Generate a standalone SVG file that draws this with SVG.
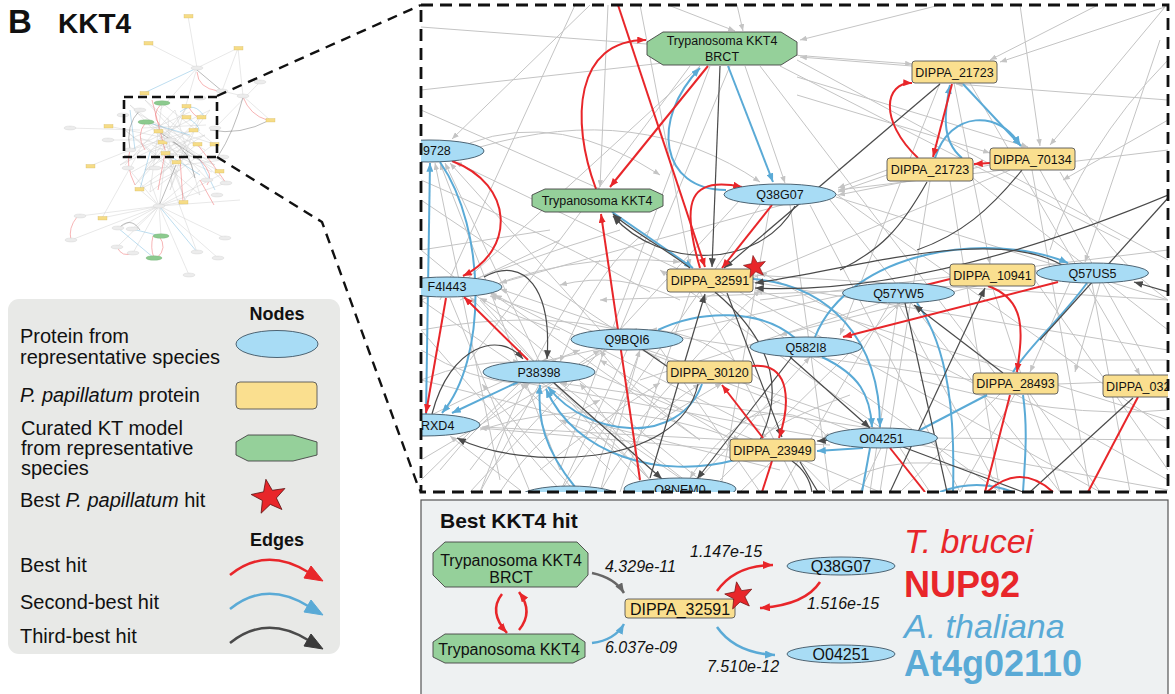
<svg xmlns="http://www.w3.org/2000/svg" width="1175" height="694" viewBox="0 0 1175 694">
<style>
text{font-family:"Liberation Sans",Arial,sans-serif;fill:#111}
.g{stroke:#c4c4c4;stroke-width:1;fill:none;marker-end:url(#ag)}
.gn{stroke:#c4c4c4;stroke-width:1;fill:none}
.r{stroke:#e8262a;stroke-width:2;fill:none;marker-end:url(#ar)}
.rn{stroke:#e8262a;stroke-width:2;fill:none}
.b{stroke:#5aaad6;stroke-width:2;fill:none;marker-end:url(#ab)}
.bn{stroke:#5aaad6;stroke-width:2;fill:none}
.d{stroke:#4a4a4a;stroke-width:1.2;fill:none;marker-end:url(#ad)}
.dn{stroke:#4a4a4a;stroke-width:1.2;fill:none}
.pe{fill:#a8dcf5;stroke:#3e5564;stroke-width:0.9}
.py{fill:#fadf8f;stroke:#555;stroke-width:0.9}
.pg{fill:#95d09a;stroke:#444;stroke-width:0.9}
.nl{font-size:12.5px;text-anchor:middle}
.bl{font-size:16px;text-anchor:middle}
.lab{font-size:16px;font-style:italic}
.leg{font-size:20px}
.th line,.th path{stroke:#d0d0d0;stroke-width:0.5;fill:none}
.th .tr{stroke:#ee6a6c}
.th .tb{stroke:#7cbde0}
.th .td{stroke:#777}
.ty{fill:#f6dc86;stroke:#d2b256;stroke-width:0.3}
.tg{fill:#8cca8e;stroke:#6aa56c;stroke-width:0.3}
.te{fill:#ececec;stroke:#c5c5c5;stroke-width:0.3}
.dash{fill:none;stroke:#111;stroke-width:2.8;stroke-dasharray:12,7}
</style>
<defs>
<marker id="ag" viewBox="0 0 10 8" refX="10" refY="4" markerWidth="7" markerHeight="5.5" markerUnits="userSpaceOnUse" orient="auto"><path d="M0,0 L10,4 L0,8 z" fill="#c4c4c4"/></marker>
<marker id="ar" viewBox="0 0 10 8" refX="10" refY="4" markerWidth="9" markerHeight="7" markerUnits="userSpaceOnUse" orient="auto"><path d="M0,0 L10,4 L0,8 z" fill="#e8262a"/></marker>
<marker id="ab" viewBox="0 0 10 8" refX="10" refY="4" markerWidth="9" markerHeight="7" markerUnits="userSpaceOnUse" orient="auto"><path d="M0,0 L10,4 L0,8 z" fill="#5aaad6"/></marker>
<marker id="ad" viewBox="0 0 10 8" refX="10" refY="4" markerWidth="9" markerHeight="7" markerUnits="userSpaceOnUse" orient="auto"><path d="M0,0 L10,4 L0,8 z" fill="#4a4a4a"/></marker>
<marker id="br" viewBox="0 0 10 8" refX="10" refY="4" markerWidth="10" markerHeight="8" markerUnits="userSpaceOnUse" orient="auto"><path d="M0,0 L10,4 L0,8 z" fill="#e8262a"/></marker>
<marker id="bb" viewBox="0 0 10 8" refX="10" refY="4" markerWidth="10" markerHeight="8" markerUnits="userSpaceOnUse" orient="auto"><path d="M0,0 L10,4 L0,8 z" fill="#5aaad6"/></marker>
<marker id="bd" viewBox="0 0 10 8" refX="10" refY="4" markerWidth="10" markerHeight="8" markerUnits="userSpaceOnUse" orient="auto"><path d="M0,0 L10,4 L0,8 z" fill="#666"/></marker>
<clipPath id="frame"><rect x="421" y="5" width="747" height="487"/></clipPath>
<path id="star" d="M-3.1,-17.7 L3.3,-6.7 L15.9,-8.5 L7.4,1 L12.9,12.5 L1.3,7.4 L-7.9,16.2 L-6.6,3.5 L-17.8,-2.5 L-5.4,-5.2 Z"/>
</defs>

<!-- Title -->
<g id="title">
<text x="8" y="33" style="font-size:33px;font-weight:bold">B</text>
<text x="58" y="33" style="font-size:28px;font-weight:bold">KKT4</text>
</g>

<!-- Thumbnail overview network -->
<g id="thumbnail" class="th">
<line x1="188" y1="16" x2="197" y2="68"/><line x1="148" y1="43" x2="197" y2="68"/><line x1="238" y1="48" x2="197" y2="68"/>
<line x1="238" y1="48" x2="222" y2="91"/><line x1="238" y1="48" x2="243" y2="96"/><line x1="197" y1="68" x2="180" y2="125"/>
<line x1="197" y1="68" x2="160" y2="110"/><line x1="222" y1="91" x2="243" y2="96"/><line x1="243" y1="96" x2="270" y2="120"/>
<line x1="260" y1="82" x2="215" y2="128"/><line x1="70" y1="128" x2="140" y2="130"/><line x1="108" y1="140" x2="150" y2="140"/>
<line x1="90" y1="166" x2="130" y2="150"/><line x1="159" y1="206" x2="80" y2="216"/><line x1="159" y1="206" x2="71" y2="240"/>
<line x1="159" y1="206" x2="118" y2="228"/><line x1="159" y1="206" x2="132" y2="229"/><line x1="159" y1="206" x2="218" y2="258"/>
<line x1="159" y1="206" x2="225" y2="238"/><line x1="159" y1="206" x2="189" y2="275"/><line x1="159" y1="206" x2="102" y2="218"/>
<line x1="159" y1="206" x2="183" y2="202"/><line x1="159" y1="206" x2="139" y2="189"/><line x1="159" y1="206" x2="165" y2="160"/>
<line x1="159" y1="206" x2="200" y2="170"/><line x1="159" y1="206" x2="220" y2="175"/><line x1="159" y1="206" x2="128" y2="168"/>
<line x1="159" y1="206" x2="150" y2="180"/><line x1="159" y1="206" x2="240" y2="200"/><line x1="159" y1="206" x2="226" y2="183"/>
<line x1="159" y1="206" x2="117" y2="247"/><line x1="159" y1="206" x2="161" y2="236"/><line x1="159" y1="206" x2="133" y2="253"/>
<line x1="130" y1="105" x2="180" y2="158"/><line x1="145" y1="100" x2="200" y2="160"/><line x1="162" y1="103" x2="150" y2="192"/>
<line x1="175" y1="110" x2="125" y2="165"/><line x1="188" y1="106" x2="145" y2="170"/><line x1="200" y1="117" x2="135" y2="185"/>
<line x1="210" y1="110" x2="160" y2="175"/><line x1="146" y1="122" x2="214" y2="144"/><line x1="160" y1="125" x2="226" y2="183"/>
<line x1="180" y1="125" x2="120" y2="165"/><line x1="193" y1="130" x2="130" y2="150"/><line x1="205" y1="135" x2="150" y2="152"/>
<line x1="125" y1="130" x2="200" y2="195"/><line x1="140" y1="138" x2="215" y2="165"/><line x1="158" y1="131" x2="185" y2="200"/>
<line x1="170" y1="140" x2="135" y2="185"/><line x1="185" y1="145" x2="170" y2="190"/><line x1="197" y1="144" x2="145" y2="100"/>
<line x1="214" y1="144" x2="162" y2="103"/><line x1="130" y1="150" x2="210" y2="110"/><line x1="150" y1="152" x2="188" y2="106"/>
<line x1="165" y1="153" x2="222" y2="160"/><line x1="200" y1="160" x2="130" y2="105"/><line x1="215" y1="165" x2="146" y2="122"/>
<line x1="120" y1="165" x2="193" y2="130"/><line x1="145" y1="170" x2="205" y2="135"/><line x1="160" y1="175" x2="197" y2="144"/>
<line x1="178" y1="172" x2="125" y2="130"/><line x1="195" y1="178" x2="158" y2="131"/><line x1="210" y1="182" x2="170" y2="140"/>
<line x1="150" y1="192" x2="214" y2="144"/><line x1="170" y1="190" x2="200" y2="117"/><line x1="185" y1="200" x2="160" y2="125"/>
<line x1="200" y1="195" x2="175" y2="110"/><line x1="222" y1="160" x2="145" y2="170"/><line x1="108" y1="126" x2="175" y2="140"/>
<line x1="140" y1="189" x2="180" y2="170"/><line x1="183" y1="202" x2="200" y2="180"/><line x1="219" y1="171" x2="180" y2="150"/>
<line x1="139" y1="189" x2="176" y2="162"/><line x1="102" y1="218" x2="140" y2="150"/><line x1="197" y1="252" x2="170" y2="180"/>
<line x1="135" y1="112" x2="205" y2="150"/><line x1="128" y1="140" x2="190" y2="112"/><line x1="168" y1="118" x2="172" y2="185"/>
<line x1="152" y1="145" x2="212" y2="172"/><line x1="132" y1="172" x2="190" y2="140"/><line x1="142" y1="128" x2="206" y2="125"/>
<line class="tb" x1="144" y1="93" x2="197" y2="68"/><line class="tb" x1="159" y1="206" x2="197" y2="252"/><line class="tb" x1="118" y1="228" x2="154" y2="258"/>
<line class="tb" x1="146" y1="122" x2="190" y2="135"/><line class="tb" x1="130" y1="110" x2="135" y2="150"/><line class="tb" x1="200" y1="160" x2="215" y2="190"/>
<line class="tb" x1="150" y1="152" x2="140" y2="189"/><line class="tb" x1="132" y1="229" x2="161" y2="236"/>
<path class="tb" d="M186,117 Q200,125 199,131"/><path class="tb" d="M165,153 Q185,165 200,175"/><path class="tb" d="M180,112 Q195,100 205,118"/>
<path class="tr" d="M197,72 Q198,88 218,91"/><path class="tr" d="M243,97 Q250,115 267,120"/><path class="tr" d="M77,217 Q68,228 71,240"/>
<path class="tr" d="M117,247 Q122,258 133,253"/><path class="tr" d="M159,236 Q168,248 157,258"/><path class="tr" d="M153,236 Q150,248 154,258"/>
<path class="tr" d="M162,103 Q150,115 160,125"/><path class="tr" d="M146,122 Q135,135 145,150"/><path class="tr" d="M188,106 Q195,118 200,117"/>
<path class="tr" d="M200,160 Q215,175 207,185"/><path class="tr" d="M197,144 Q210,160 226,183"/><path class="tr" d="M130,150 Q125,165 135,185"/>
<line class="tr" x1="165" y1="153" x2="158" y2="190"/><line class="tr" x1="180" y1="158" x2="183" y2="202"/><line class="tr" x1="152" y1="100" x2="165" y2="150"/>
<line class="tr" x1="200" y1="180" x2="214" y2="205"/>
<path class="td" d="M197,70 L222,91"/><path class="td" d="M217,158 Q235,130 243,97"/><path class="td" d="M210,130 Q240,136 270,120"/>
<path class="td" d="M158,131 L200,160"/><path class="td" d="M170,140 Q190,150 195,178"/><path class="td" d="M140,110 Q125,125 130,150"/>
<path class="td" d="M117,230 Q130,215 140,230"/><line class="td" x1="159" y1="206" x2="176" y2="165"/>
<g>
<rect class="ty" x="184" y="14.5" width="9" height="3.5"/><rect class="ty" x="144" y="41.5" width="9" height="3.5"/><rect class="ty" x="234" y="46.5" width="9" height="3.5"/>
<rect class="ty" x="140" y="91.5" width="9" height="3.5"/><rect class="ty" x="182" y="104.5" width="9" height="3.5"/><rect class="ty" x="182" y="115.5" width="9" height="3.5"/>
<rect class="ty" x="197" y="115.5" width="9" height="3.5"/><rect class="ty" x="104" y="124.5" width="9" height="3.5"/><rect class="ty" x="189" y="128.5" width="9" height="3.5"/>
<rect class="ty" x="154" y="129.5" width="9" height="3.5"/><rect class="ty" x="158" y="140.5" width="9" height="3.5"/><rect class="ty" x="193" y="142.5" width="9" height="3.5"/>
<rect class="ty" x="210" y="142.5" width="9" height="3.5"/><rect class="ty" x="161" y="151.5" width="9" height="3.5"/><rect class="ty" x="86" y="164.5" width="9" height="3.5"/>
<rect class="ty" x="172" y="160.5" width="9" height="3.5"/><rect class="ty" x="215" y="169.5" width="9" height="3.5"/><rect class="ty" x="266" y="118.5" width="9" height="3.5"/>
<rect class="ty" x="135" y="187.5" width="9" height="3.5"/><rect class="ty" x="179" y="200.5" width="9" height="3.5"/><rect class="ty" x="98" y="216.5" width="9" height="3.5"/>
<ellipse class="tg" cx="162" cy="103" rx="8" ry="2.3"/><ellipse class="tg" cx="146" cy="122" rx="8" ry="2.3"/><ellipse class="tg" cx="161" cy="236" rx="8" ry="2.3"/><ellipse class="tg" cx="154" cy="258" rx="8" ry="2.3"/>
<ellipse class="te" cx="197" cy="68" rx="6" ry="2"/><ellipse class="te" cx="222" cy="91" rx="6" ry="2"/><ellipse class="te" cx="243" cy="96" rx="6" ry="2"/>
<ellipse class="te" cx="260" cy="82" rx="6" ry="2"/><ellipse class="te" cx="70" cy="128" rx="6" ry="2"/><ellipse class="te" cx="108" cy="140" rx="6" ry="2"/>
<ellipse class="te" cx="123" cy="115" rx="6" ry="2"/><ellipse class="te" cx="159" cy="206" rx="6" ry="2"/><ellipse class="te" cx="80" cy="216" rx="6" ry="2"/>
<ellipse class="te" cx="71" cy="240" rx="6" ry="2"/><ellipse class="te" cx="118" cy="228" rx="6" ry="2"/><ellipse class="te" cx="132" cy="229" rx="6" ry="2"/>
<ellipse class="te" cx="117" cy="247" rx="6" ry="2"/><ellipse class="te" cx="133" cy="253" rx="6" ry="2"/><ellipse class="te" cx="197" cy="252" rx="6" ry="2"/>
<ellipse class="te" cx="218" cy="258" rx="6" ry="2"/><ellipse class="te" cx="225" cy="238" rx="6" ry="2"/><ellipse class="te" cx="189" cy="275" rx="6" ry="2"/>
<ellipse class="te" cx="223" cy="157" rx="6" ry="2"/><ellipse class="te" cx="128" cy="168" rx="6" ry="2"/><ellipse class="te" cx="155" cy="168" rx="6" ry="2"/>
<ellipse class="te" cx="207" cy="180" rx="6" ry="2"/><ellipse class="te" cx="217" cy="195" rx="6" ry="2"/><ellipse class="te" cx="226" cy="183" rx="6" ry="2"/>
<ellipse class="te" cx="130" cy="150" rx="6" ry="2"/><ellipse class="te" cx="170" cy="140" rx="6" ry="2"/><ellipse class="te" cx="140" cy="110" rx="6" ry="2"/>
<ellipse class="te" cx="200" cy="98" rx="6" ry="2"/><ellipse class="te" cx="215" cy="128" rx="6" ry="2"/>
</g>
</g>

<!-- zoom indicator -->
<g id="zoom-lines">
<rect class="dash" x="124" y="97" width="93" height="60" style="stroke-width:2.6;stroke-dasharray:9,5"/>
<path class="dash" d="M217,96 L421,5" style="stroke-width:2.4;stroke-dasharray:10,7"/>
<path class="dash" d="M217,157 L322,222 L418,486 L421,492" style="stroke-width:2.4;stroke-dasharray:10,7"/>
</g>

<!-- Legend -->
<g id="legend">
<rect x="8" y="299" width="332" height="355" rx="11" fill="#e8e9e7"/>
<text x="277" y="320" style="font-size:18px;font-weight:bold;text-anchor:middle">Nodes</text>
<text class="leg" x="20" y="343">Protein from</text>
<text class="leg" x="20" y="364">representative species</text>
<ellipse cx="277" cy="344" rx="41" ry="13.5" class="pe"/>
<text class="leg" x="20" y="402"><tspan font-style="italic">P. papillatum</tspan> protein</text>
<rect x="236" y="382" width="81" height="27" rx="4" class="py"/>
<text class="leg" x="21" y="435">Curated KT model</text>
<text class="leg" x="21" y="455">from representative</text>
<text class="leg" x="21" y="475">species</text>
<polygon class="pg" points="248,435 293,435 317,442 317,455 293,461 248,461 236,455 236,442"/>
<text class="leg" x="20" y="507">Best <tspan font-style="italic">P. papillatum</tspan> hit</text>
<use href="#star" transform="translate(269,497)" fill="#e8262a" stroke="#5a1212" stroke-width="0.8"/>
<text x="277" y="546" style="font-size:18px;font-weight:bold;text-anchor:middle">Edges</text>
<text class="leg" x="20" y="572">Best hit</text>
<text class="leg" x="20" y="609">Second-best hit</text>
<text class="leg" x="20" y="643">Third-best hit</text>
<path d="M230,575 Q266,546 308,572" fill="none" stroke="#e8262a" stroke-width="2.5"/>
<polygon points="323,581 304,578 311,566" fill="#e8262a" stroke="#e8262a" stroke-width="1"/>
<path d="M230,609 Q266,580 308,606" fill="none" stroke="#5aaad6" stroke-width="2.5"/>
<polygon points="323,615 304,612 311,600" fill="#5aaad6" stroke="#5aaad6" stroke-width="1"/>
<path d="M230,643 Q266,614 308,640" fill="none" stroke="#4a4a4a" stroke-width="2.5"/>
<polygon points="323,649 304,646 311,634" fill="#3a3a3a" stroke="#3a3a3a" stroke-width="1"/>
</g>

<!-- Main zoomed network -->
<g clip-path="url(#frame)">
<g id="edges-grey">
<path class="g" d="M590,5 L452,139"/><path class="gn" d="M575,5 L440,300"/><path class="g" d="M608,5 L600,187"/>
<path class="g" d="M640,5 L690,266"/><path class="g" d="M668,5 L735,31"/><path class="g" d="M737,5 L743,31"/>
<path class="g" d="M940,5 L800,40"/><path class="g" d="M1098,5 L990,60"/><path class="g" d="M1020,5 L1040,146"/>
<path class="g" d="M1165,7 L1050,145"/><path class="g" d="M1165,7 L1000,62"/><path class="g" d="M1160,40 L1085,262"/>
<path class="g" d="M1168,120 L1063,180"/><path class="g" d="M912,66 L800,57"/><path class="g" d="M421,27 L912,64"/>
<path class="g" d="M797,77 L1028,147"/><path class="g" d="M797,95 L990,153"/><path class="gn" d="M690,66 L470,360"/>
<path class="gn" d="M700,66 L455,290"/><path class="gn" d="M710,66 L560,470"/><path class="gn" d="M730,66 L620,330"/>
<path class="g" d="M745,66 L785,183"/><path class="gn" d="M760,66 L1000,380"/><path class="gn" d="M780,66 L1120,240"/>
<path class="gn" d="M797,60 L1168,260"/><path class="g" d="M470,143 Q560,110 660,175"/><path class="g" d="M539,361 L445,163"/>
<path class="g" d="M600,330 L450,163"/><path class="g" d="M680,270 L455,162"/><path class="g" d="M560,470 L440,163"/>
<path class="g" d="M500,480 L435,163"/><path class="g" d="M650,480 L470,297"/><path class="g" d="M700,440 L490,292"/>
<path class="g" d="M620,330 L500,289"/><path class="g" d="M760,430 L495,295"/><path class="g" d="M800,200 L500,283"/>
<path class="g" d="M880,430 L490,296"/><path class="gn" d="M421,200 L660,360"/><path class="gn" d="M421,250 L700,480"/>
<path class="gn" d="M421,330 L560,490"/><path class="gn" d="M421,380 L780,470"/><path class="gn" d="M480,300 L650,492"/>
<path class="gn" d="M450,298 L530,492"/><path class="g" d="M421,460 L640,330"/><path class="gn" d="M540,383 L480,492"/>
<path class="gn" d="M560,383 L700,492"/><path class="gn" d="M590,372 L880,492"/><path class="gn" d="M520,383 L421,480"/>
<path class="gn" d="M627,350 L560,492"/><path class="gn" d="M640,350 L600,492"/><path class="gn" d="M660,348 L760,492"/>
<path class="gn" d="M700,292 L800,492"/><path class="gn" d="M690,292 L620,492"/><path class="gn" d="M720,292 L1000,492"/>
<path class="gn" d="M740,292 L1100,492"/><path class="gn" d="M753,275 L1168,300"/><path class="gn" d="M753,282 L1168,350"/>
<path class="g" d="M1168,420 L756,290"/><path class="gn" d="M836,194 L1168,430"/><path class="gn" d="M836,197 L1168,300"/>
<path class="gn" d="M830,200 L1060,492"/><path class="gn" d="M810,205 L960,492"/><path class="gn" d="M790,205 L830,492"/>
<path class="gn" d="M770,205 L720,492"/><path class="gn" d="M760,205 L560,492"/><path class="gn" d="M740,200 L470,492"/>
<path class="g" d="M887,170 L838,188"/><path class="g" d="M887,175 L838,192"/><path class="g" d="M990,165 L838,195"/>
<path class="g" d="M1168,150 L838,190"/><path class="gn" d="M930,181 L880,492"/><path class="gn" d="M950,181 L1000,492"/>
<path class="gn" d="M973,178 L1168,330"/><path class="gn" d="M1032,170 L1090,492"/><path class="gn" d="M1040,170 L1168,400"/>
<path class="g" d="M1010,170 L700,300"/><path class="g" d="M954,83 L990,264"/><path class="g" d="M970,83 L1140,375"/>
<path class="g" d="M940,83 L840,335"/><path class="gn" d="M898,303 L870,492"/><path class="gn" d="M890,303 L780,492"/>
<path class="gn" d="M880,303 L640,380"/><path class="gn" d="M898,303 L1000,492"/><path class="g" d="M870,290 L600,300"/>
<path class="g" d="M843,295 L540,362"/><path class="gn" d="M992,286 L1060,492"/><path class="gn" d="M1035,280 L1168,470"/>
<path class="gn" d="M1092,283 L1130,492"/><path class="g" d="M1100,283 L1075,372"/><path class="g" d="M1070,282 L1030,372"/>
<path class="g" d="M1040,270 L780,335"/><path class="gn" d="M1015,394 L1168,480"/><path class="gn" d="M1015,394 L960,492"/>
<path class="gn" d="M1000,394 L900,492"/><path class="gn" d="M1030,394 L1100,492"/><path class="g" d="M973,383 L760,272"/>
<path class="g" d="M973,380 L630,330"/><path class="gn" d="M1058,384 L1168,380"/><path class="g" d="M881,428 L660,270"/>
<path class="g" d="M870,428 L560,383"/><path class="g" d="M850,430 L620,342"/><path class="g" d="M837,440 L520,382"/>
<path class="g" d="M830,445 L482,427"/><path class="gn" d="M881,448 L860,492"/><path class="gn" d="M900,448 L930,492"/>
<path class="gn" d="M920,445 L1168,490"/><path class="gn" d="M930,438 L1168,440"/><path class="gn" d="M772,461 L740,492"/>
<path class="gn" d="M800,461 L830,492"/><path class="g" d="M730,450 L480,428"/><path class="g" d="M740,445 L600,360"/>
<path class="gn" d="M680,478 L421,300"/><path class="g" d="M650,480 L580,383"/><path class="g" d="M700,478 L810,357"/>
<path class="g" d="M720,480 L900,303"/><path class="g" d="M570,486 L482,384"/><path class="g" d="M590,486 L640,350"/>
<path class="g" d="M520,490 L450,436"/><path class="g" d="M480,430 Q600,390 740,440"/><path class="g" d="M460,300 Q560,250 680,262"/>
<path class="g" d="M480,147 Q640,100 760,182"/><path class="gn" d="M1168,60 Q1080,150 1050,250"/><path class="gn" d="M1060,172 Q1110,260 1168,300"/>
<path class="gn" d="M830,492 Q900,440 1000,480"/><path class="g" d="M421,330 Q530,310 620,330"/><path class="g" d="M600,492 Q640,420 700,384"/>
<path class="g" d="M500,492 Q540,430 600,400"/><path class="g" d="M421,350 Q470,380 520,384"/><path class="g" d="M660,492 Q620,440 560,420"/>
<path class="gn" d="M421,90 L690,60"/><path class="gn" d="M421,110 L600,189"/><path class="g" d="M560,240 L470,282"/>
<path class="gn" d="M550,230 L421,250"/><path class="g" d="M680,300 Q620,270 560,285"/><path class="gn" d="M760,300 L1168,250"/>
<path class="gn" d="M860,360 L1168,360"/><path class="gn" d="M920,380 Q1060,420 1168,410"/><path class="g" d="M1168,100 L956,84"/>
<path class="g" d="M470,470 Q520,400 600,350"/><path class="g" d="M440,470 Q480,420 530,383"/><path class="g" d="M421,420 Q500,380 580,350"/>
<path class="g" d="M560,330 Q520,320 480,298"/><path class="g" d="M650,230 Q600,260 560,362"/><path class="g" d="M610,470 Q560,420 520,383"/>
<path class="g" d="M700,440 Q620,380 600,350"/><path class="g" d="M760,380 Q700,330 650,330"/><path class="g" d="M640,420 Q700,350 760,290"/>
<path class="gn" d="M421,180 Q560,240 650,292"/><path class="gn" d="M421,300 Q520,260 620,230"/><path class="g" d="M540,470 Q600,420 660,383"/>
<path class="g" d="M780,400 Q720,430 690,478"/><path class="g" d="M850,395 Q780,420 760,439"/><path class="g" d="M660,420 L722,383"/>
<path class="gn" d="M600,260 Q540,330 480,492"/><path class="g" d="M421,380 Q470,360 520,362"/><path class="g" d="M740,420 Q800,400 830,440"/>
</g>
<g id="edges-colored">
<path class="b" d="M728,66 L773,182"/><path class="b" d="M726,190 C660,190 650,120 700,68"/><path class="b" d="M612,212 L693,268"/>
<path class="b" d="M426,414 L430,163"/><path class="b" d="M440,162 C487,230 487,360 442,413"/><path class="b" d="M518,382 L452,413"/>
<path class="b" d="M702,384 C680,445 590,440 548,387"/><path class="b" d="M735,460 C660,480 575,455 546,389"/><path class="b" d="M575,487 C545,450 537,420 540,385"/>
<path class="b" d="M815,337 C850,250 990,230 1068,263"/><path class="bn" d="M658,330 C700,310 760,308 795,338"/><path class="b" d="M753,279 C830,285 880,340 880,427"/>
<path class="b" d="M822,357 C860,375 870,395 872,427"/><path class="bn" d="M917,303 C950,350 955,420 953,492"/><path class="bn" d="M1087,283 C1060,320 1030,345 1013,372"/>
<path class="bn" d="M920,430 L987,395"/><path class="b" d="M863,448 L817,451"/><path class="bn" d="M1023,395 C1028,430 1025,460 1023,492"/>
<path class="bn" d="M870,448 L862,492"/><path class="bn" d="M940,492 Q977,478 1013,492"/><path class="b" d="M963,84 L1021,146"/>
<path class="b" d="M935,158 C950,110 1000,110 1020,145"/><path class="b" d="M962,158 C940,140 945,110 950,85"/>
<path class="d" d="M720,66 L712,267"/><path class="d" d="M690,268 C660,245 630,230 613,214"/><path class="d" d="M795,206 C760,270 660,270 613,216"/>
<path class="d" d="M940,84 L724,268"/><path class="d" d="M1062,265 C990,225 850,270 755,283"/><path class="d" d="M1168,195 C1060,240 900,295 755,288"/>
<path class="d" d="M650,478 L705,294"/><path class="dn" d="M715,292 C760,330 790,380 760,440"/><path class="d" d="M484,277 C525,255 552,290 547,359"/>
<path class="d" d="M432,414 C450,345 500,330 523,359"/><path class="d" d="M553,382 L662,479"/><path class="d" d="M698,384 C680,470 520,470 457,438"/>
<path class="dn" d="M642,349 L668,367"/><path class="d" d="M795,353 L697,479"/><path class="d" d="M727,293 L782,437"/>
<path class="dn" d="M905,303 L947,492"/><path class="d" d="M1003,373 L914,305"/><path class="d" d="M890,492 L985,288"/>
<path class="d" d="M790,357 L870,428"/><path class="dn" d="M903,447 L1023,492"/><path class="dn" d="M1133,398 L1030,492"/>
<path class="d" d="M1168,292 L1134,282"/><path class="dn" d="M1168,198 L1040,340"/><path class="dn" d="M927,182 C900,230 880,250 840,270"/>
<path class="dn" d="M1022,170 C990,210 960,235 917,250"/><path class="d" d="M835,440 L817,441"/><path class="dn" d="M792,461 C805,470 810,480 812,492"/>
<path class="dn" d="M800,462 L818,492"/>
<path class="r" d="M618,5 L705,267"/><path class="r" d="M596,189 C570,120 575,40 646,40"/><path class="r" d="M708,66 L610,187"/>
<path class="r" d="M452,161 C515,185 515,250 463,276"/><path class="r" d="M528,360 L464,297"/><path class="r" d="M446,298 L426,413"/>
<path class="r" d="M640,480 L601,214"/><path class="r" d="M700,268 C680,200 690,176 742,187"/><path class="r" d="M772,205 L722,268"/>
<path class="r" d="M918,158 C878,120 885,82 912,83"/><path class="r" d="M952,84 L933,157"/><path class="r" d="M990,163 L974,164"/>
<path class="r" d="M1058,282 L843,337"/><path class="rn" d="M950,279 L926,285"/><path class="r" d="M988,286 C1028,300 1022,335 1017,372"/>
<path class="r" d="M752,366 C792,362 790,405 779,438"/><path class="r" d="M763,438 L722,385"/><path class="rn" d="M762,492 L772,461"/>
<path class="rn" d="M890,448 L925,492"/><path class="rn" d="M1010,395 L985,492"/><path class="rn" d="M1138,397 L1088,492"/>
<path class="rn" d="M987,492 Q1020,462 1053,492"/>
</g>
<g id="n-brct"><polygon class="pg" points="663,32 781,32 797,42 797,55 781,65 663,65 647,55 647,42"/><text class="nl" x="722" y="45">Trypanosoma KKT4</text><text class="nl" x="722" y="61">BRCT</text></g>
<g id="n-kkt4"><polygon class="pg" points="545,189 650,189 663,195 663,206 650,212 545,212 532,206 532,195"/><text class="nl" x="597" y="205">Trypanosoma KKT4</text></g>
<g id="n-9728"><ellipse class="pe" cx="429" cy="151" rx="55" ry="11"/><text class="nl" x="423" y="155" style="text-anchor:start">9728</text></g>
<g id="n-f4i443"><ellipse class="pe" cx="447" cy="287" rx="55" ry="10"/><text class="nl" x="447" y="291">F4I443</text></g>
<g id="n-p38398"><ellipse class="pe" cx="539" cy="372" rx="56" ry="11"/><text class="nl" x="539" y="376.5">P38398</text></g>
<g id="n-rxd4"><ellipse class="pe" cx="424" cy="425" rx="56" ry="11"/><text class="nl" x="421" y="429.5" style="text-anchor:start">RXD4</text></g>
<g id="n-q9bqi6"><ellipse class="pe" cx="627" cy="339.5" rx="56" ry="10.5"/><text class="nl" x="627" y="344">Q9BQI6</text></g>
<g id="n-q38g07"><ellipse class="pe" cx="780" cy="194.5" rx="56" ry="10.5"/><text class="nl" x="780" y="199">Q38G07</text></g>
<g id="n-d32591"><rect class="py" x="667" y="269" width="86" height="23" rx="3"/><text class="nl" x="710" y="285">DIPPA_32591</text><use href="#star" transform="translate(755,267) scale(0.65)" fill="#e8262a" stroke="#7a1515" stroke-width="1"/></g>
<g id="n-d30120"><rect class="py" x="667" y="361" width="85" height="22" rx="3"/><text class="nl" x="709.5" y="376.5">DIPPA_30120</text></g>
<g id="n-d23949"><rect class="py" x="730" y="439" width="85" height="22" rx="3"/><text class="nl" x="772.5" y="454.5">DIPPA_23949</text></g>
<g id="n-q8nem0"><ellipse class="pe" cx="680" cy="489" rx="56" ry="11"/><text class="nl" x="680" y="494">Q8NEM0</text></g>
<g id="n-bottomleft"><ellipse class="pe" cx="570" cy="497" rx="50" ry="11"/></g>
<g id="n-q582i8"><ellipse class="pe" cx="806" cy="347" rx="56" ry="10"/><text class="nl" x="806" y="351.5">Q582I8</text></g>
<g id="n-q57yw5"><ellipse class="pe" cx="898.5" cy="293" rx="56" ry="10"/><text class="nl" x="898.5" y="297.5">Q57YW5</text></g>
<g id="n-d10941"><rect class="py" x="950" y="264" width="85" height="22" rx="3"/><text class="nl" x="992.5" y="279.5">DIPPA_10941</text></g>
<g id="n-q57us5"><ellipse class="pe" cx="1092.5" cy="273" rx="56" ry="10"/><text class="nl" x="1092.5" y="277.5">Q57US5</text></g>
<g id="n-d28493"><rect class="py" x="973" y="373" width="85" height="21" rx="3"/><text class="nl" x="1015.5" y="388">DIPPA_28493</text></g>
<g id="n-d032"><rect class="py" x="1103" y="375" width="85" height="22" rx="3"/><text class="nl" x="1106" y="390.5" style="text-anchor:start">DIPPA_032</text></g>
<g id="n-o04251"><ellipse class="pe" cx="881.5" cy="438" rx="56" ry="10"/><text class="nl" x="881.5" y="442.5">O04251</text></g>
<g id="n-d21723a"><rect class="py" x="912" y="61" width="85" height="22" rx="3"/><text class="nl" x="954.5" y="76.5">DIPPA_21723</text></g>
<g id="n-d21723b"><rect class="py" x="887" y="158" width="86" height="23" rx="3"/><text class="nl" x="930" y="174">DIPPA_21723</text></g>
<g id="n-d70134"><rect class="py" x="990" y="148" width="85" height="22" rx="3"/><text class="nl" x="1032.5" y="163.5">DIPPA_70134</text></g>
</g>
<rect class="dash" x="421" y="5" width="747" height="487"/>

<!-- Best KKT4 hit panel -->
<g id="best-hit-panel">
<rect x="421" y="500" width="747" height="200" fill="#eef1f2" stroke="#555" stroke-width="1.2"/>
<text x="440" y="528" style="font-size:21px;font-weight:bold">Best KKT4 hit</text>
<g id="bp-edges">
<path d="M592,573 Q615,578 624,593" fill="none" stroke="#666" stroke-width="2.5" marker-end="url(#bd)"/>
<path d="M592,643 Q615,640 624,624" fill="none" stroke="#5aaad6" stroke-width="2.5" marker-end="url(#bb)"/>
<path d="M717,591 Q735,565 773,565" fill="none" stroke="#e8262a" stroke-width="2.5" marker-end="url(#br)"/>
<path d="M820,582 Q805,605 760,608" fill="none" stroke="#e8262a" stroke-width="2.5" marker-end="url(#br)"/>
<path d="M717,627 Q735,653 775,655" fill="none" stroke="#5aaad6" stroke-width="2.5" marker-end="url(#bb)"/>
<path d="M502,594 Q488,612 507,633" fill="none" stroke="#e8262a" stroke-width="2.5" marker-end="url(#br)"/>
<path d="M519,630 Q534,612 519,592" fill="none" stroke="#e8262a" stroke-width="2.5" marker-end="url(#br)"/>
</g>
<g id="bp-brct"><polygon class="pg" points="445,542 577,542 588,553 588,575 577,587 445,587 433,575 433,553"/><text class="bl" x="511" y="566">Trypanosoma KKT4</text><text class="bl" x="511" y="583">BRCT</text></g>
<g id="bp-kkt4"><polygon class="pg" points="445,634 573,634 585,642 585,657 573,663 445,663 433,657 433,642"/><text class="bl" x="509" y="655">Trypanosoma KKT4</text></g>
<g id="bp-dippa"><rect class="py" x="625" y="599" width="110" height="19" rx="3"/><text class="bl" x="680" y="614.5">DIPPA_32591</text><use href="#star" transform="translate(739,596) scale(0.8)" fill="#e8262a" stroke="#7a1515" stroke-width="1"/></g>
<g id="bp-q38g07"><ellipse class="pe" cx="841" cy="566" rx="54" ry="9"/><text class="bl" x="841" y="572">Q38G07</text></g>
<g id="bp-o04251"><ellipse class="pe" cx="841" cy="654" rx="54" ry="9"/><text class="bl" x="841" y="660">O04251</text></g>
<text class="lab" x="605" y="572">4.329e-11</text>
<text class="lab" x="605" y="653">6.037e-09</text>
<text class="lab" x="690" y="557">1.147e-15</text>
<text class="lab" x="807" y="609">1.516e-15</text>
<text class="lab" x="707" y="672">7.510e-12</text>
<text x="904" y="553" style="font-size:34px;font-style:italic;fill:#e8262a">T. brucei</text>
<text x="904" y="597" style="font-size:36px;font-weight:bold;fill:#e8262a">NUP92</text>
<text x="904" y="638" style="font-size:34px;font-style:italic;fill:#5aaad6">A. thaliana</text>
<text x="904" y="676" style="font-size:36px;font-weight:bold;fill:#5aaad6">At4g02110</text>
</g>
</svg>
